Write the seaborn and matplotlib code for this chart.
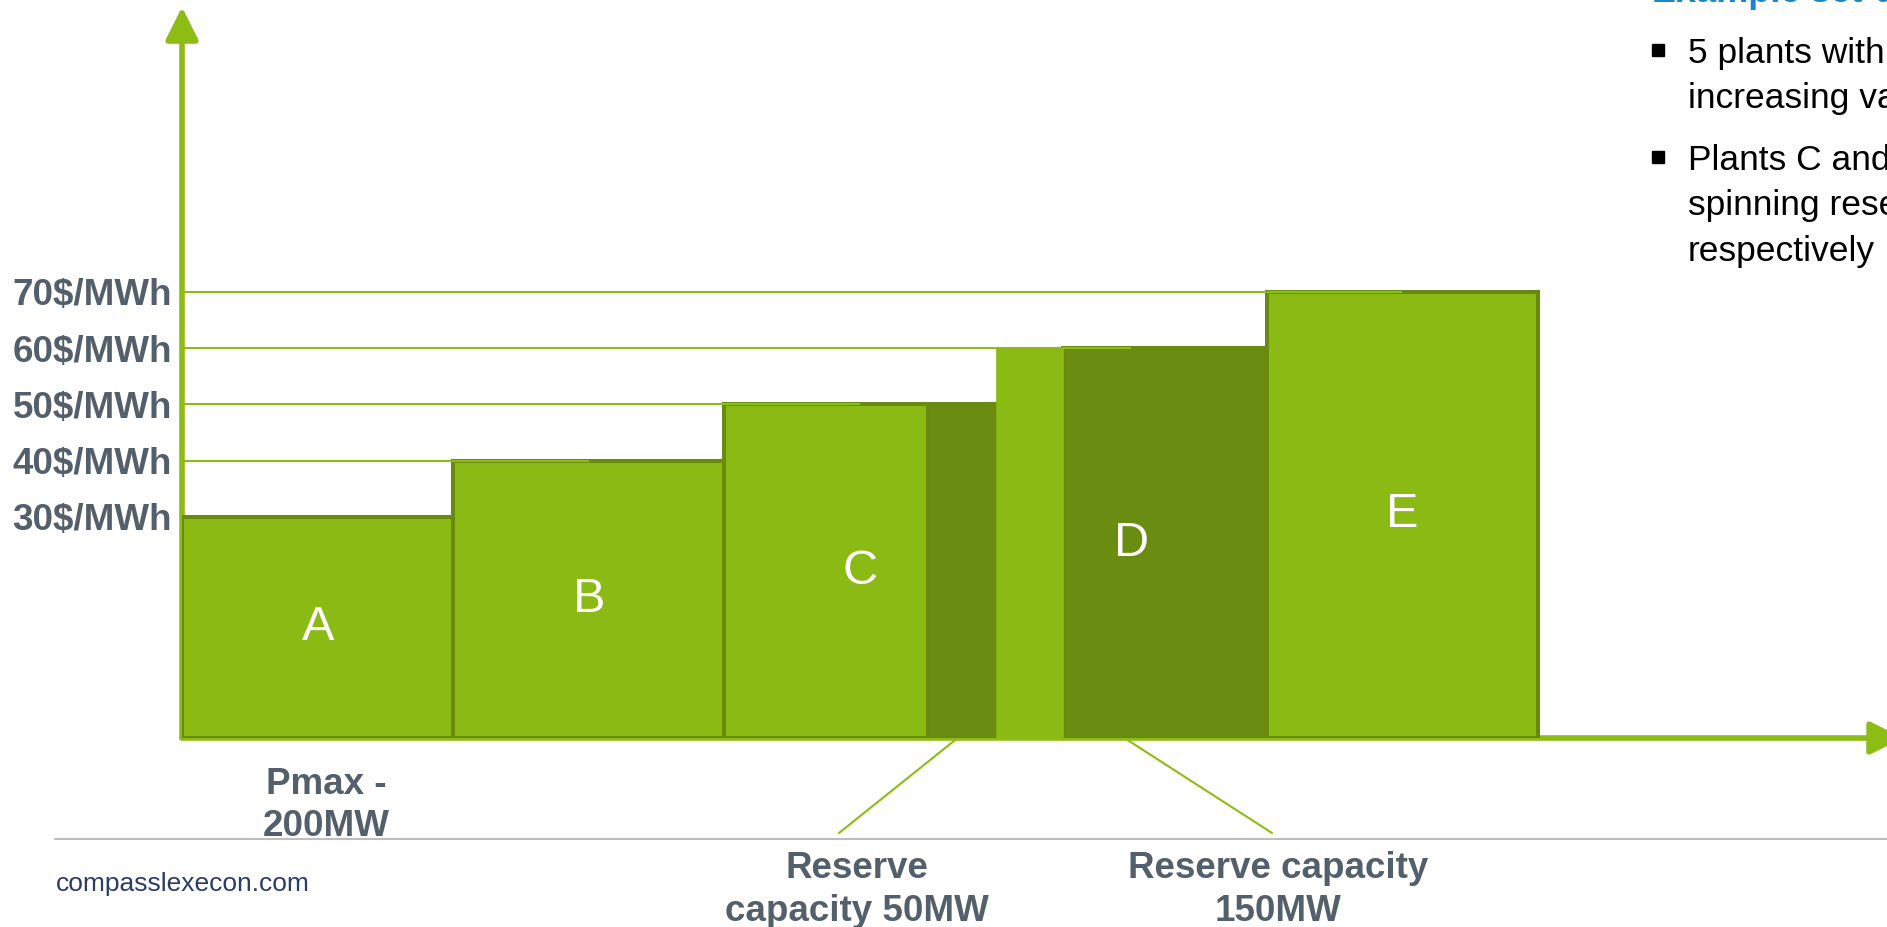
import matplotlib
matplotlib.use("Agg")
import matplotlib.pyplot as plt
import seaborn as sns
from matplotlib.lines import Line2D

# ---------------- data ----------------
plants = ["A", "B", "C", "D", "E"]
prices = [30, 40, 50, 60, 70]                 # $/MWh
generation_mw = [200, 200, 150, 50, 200]      # MW dispatched
reserve_mw = [0, 0, 50, 150, 0]               # MW held as spinning reserve
price_labels = ["30$/MWh", "40$/MWh", "50$/MWh", "60$/MWh", "70$/MWh"]
pmax_label = ["Pmax -", "200MW"]
reserve_c_label = ["Reserve", "capacity 50MW"]
reserve_d_label = ["Reserve capacity", "150MW"]
footer = "compasslexecon.com"
panel_title = "Example set-up"
bullet_1 = ["5 plants with", "increasing variable"]
bullet_2 = ["Plants C and D", "spinning reserve", "respectively"]

# ---------------- style ----------------
W, H, DPI = 1887, 927, 100
LIGHT = "#8CBA14"
DARK = "#6A8C10"
EDGE = "#678A0F"
AXIS_GREEN = "#8DBC14"
GRAY_TEXT = "#535F6B"
NAVY = "#2B3D66"
BLUE = "#1A86C8"
gen_has_edge = [True, True, True, False, True]

sns.set_theme(style="white")
plt.rcParams["font.family"] = ["Liberation Sans", "DejaVu Sans"]


def fx(px):
    return px / W


def fy(py):
    return 1 - py / H


fig = plt.figure(figsize=(W / DPI, H / DPI), dpi=DPI)
fig.patch.set_facecolor("white")

# plot region: x from 182px to right edge, y from 738px (baseline) to top
AX_L, AX_B = 182, 738
PX_PER_MW = 1.356
PX_PER_USD = 5.625
ax = fig.add_axes([fx(AX_L), fy(AX_B), (W - AX_L) / W, AX_B / H])
x_max = (W - AX_L) / PX_PER_MW
base = 30 - (AX_B - 517) / PX_PER_USD
y_top = base + AX_B / PX_PER_USD
ax.set_xlim(0, x_max)
ax.set_ylim(base, y_top)
ax.set_facecolor("none")
for s in ax.spines.values():
    s.set_visible(False)
ax.grid(False)

# ---------------- bars ----------------
x = 0.0
mids = []
for name, p, g, r, edge in zip(plants, prices, generation_mw, reserve_mw, gen_has_edge):
    start = x
    ax.bar(x, p - base, width=g, bottom=base, align="edge", color=LIGHT,
           edgecolor=EDGE if edge else LIGHT, linewidth=2.9 if edge else 0.5,
           zorder=3 if edge else 4)
    x += g
    if r:
        ax.bar(x, p - base, width=r, bottom=base, align="edge", color=DARK,
               edgecolor=EDGE, linewidth=2.9, zorder=3)
        x += r
    mid = start + (g + r) / 2
    mids.append(mid)
    ax.text(mid, (base + p) / 2, name, ha="center", va="center", color="white",
            fontsize=35, zorder=6)

# guide lines from the axis to each plant's price level
ax.hlines(prices[1:], 0, mids[1:], color=AXIS_GREEN, lw=1.5, zorder=5)

# y tick labels
ax.set_xticks([])
ax.set_yticks(prices)
ax.set_yticklabels(price_labels, fontsize=26.5, fontweight="bold", color=GRAY_TEXT)
ax.tick_params(axis="y", length=0, pad=7.2)

# axis arrows
arrow_kw = dict(arrowstyle="-|>,head_length=1.0,head_width=0.5", mutation_scale=20,
                lw=4, color=AXIS_GREEN, shrinkA=0, shrinkB=0)
y_tip = y_top - 7 / PX_PER_USD
x_tip = (1903 - AX_L) / PX_PER_MW
ax.annotate("", xy=(0, y_tip), xytext=(0, base), arrowprops=arrow_kw,
            annotation_clip=False, zorder=2)
ax.annotate("", xy=(x_tip, base), xytext=(0, base), arrowprops=arrow_kw,
            annotation_clip=False, zorder=2)

# leader lines to reserve labels
line_kw = dict(arrowstyle="-", color=AXIS_GREEN, lw=1.5, shrinkA=0, shrinkB=0)
ax.annotate("", xy=(572, base), xycoords="data", xytext=(fx(839), fy(833)),
            textcoords="figure fraction", arrowprops=line_kw, annotation_clip=False, zorder=1)
ax.annotate("", xy=(695, base), xycoords="data", xytext=(fx(1272), fy(833)),
            textcoords="figure fraction", arrowprops=line_kw, annotation_clip=False, zorder=1)

# separator line
fig.add_artist(Line2D([fx(55), 1.0], [fy(839), fy(839)], transform=fig.transFigure,
                      color="#BDBDBD", lw=1.5))

# bottom labels
bold_kw = dict(fontsize=26.5, fontweight="bold", color=GRAY_TEXT, ha="center", va="baseline")
fig.text(fx(326), fy(794), pmax_label[0], **bold_kw)
fig.text(fx(326), fy(836), pmax_label[1], **bold_kw)
fig.text(fx(857), fy(878), reserve_c_label[0], **bold_kw)
fig.text(fx(857), fy(921), reserve_c_label[1], **bold_kw)
fig.text(fx(1278), fy(878), reserve_d_label[0], **bold_kw)
fig.text(fx(1278), fy(921), reserve_d_label[1], **bold_kw)

fig.text(fx(56), fy(891), footer, fontsize=19, color=NAVY, ha="left", va="baseline")

# right-hand panel
fig.text(fx(1652), fy(1.5), panel_title, fontsize=26, fontweight="bold", color=BLUE,
         ha="left", va="baseline")
body_kw = dict(fontsize=25.5, color="black", ha="left", va="baseline")
for i, line in enumerate(bullet_1):
    fig.text(fx(1688), fy(63 + 45 * i), line, **body_kw)
for i, line in enumerate(bullet_2):
    fig.text(fx(1688), fy(170 + 45.5 * i), line, **body_kw)
for yc in (50, 157):
    fig.add_artist(Line2D([fx(1658)], [fy(yc)], marker="s", markersize=8.2, color="black",
                          transform=fig.transFigure, linestyle="none"))

fig.savefig("out.png", dpi=DPI, facecolor="white")
